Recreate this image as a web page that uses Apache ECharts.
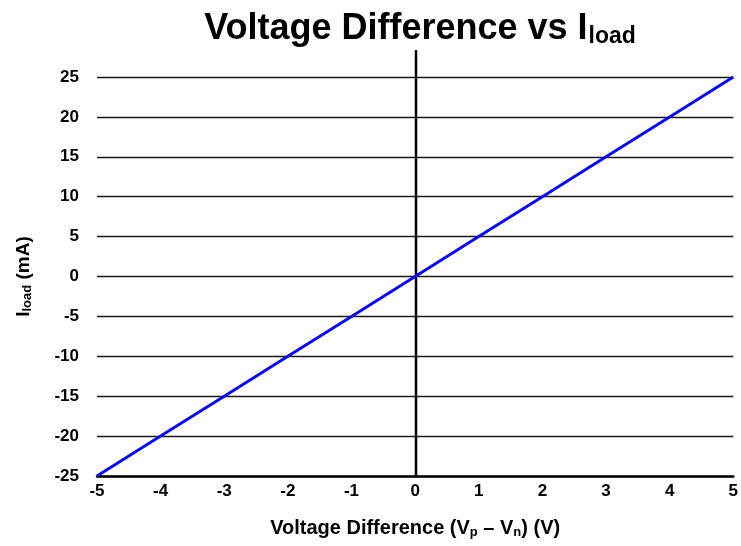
<!DOCTYPE html>
<html>
<head>
<meta charset="utf-8">
<script src="https://cdn.jsdelivr.net/npm/echarts@6/dist/echarts.min.js"></script>
<style>
  html, body { margin: 0; padding: 0; background: #fff; }
  #chart { width: 741px; height: 546px; }
</style>
</head>
<body>
<div id="chart"></div>
<script>
// measured points of I_load vs voltage difference
var voltage = [-5, -4, -3, -2, -1, 0, 1, 2, 3, 4, 5]
var iload = [-25, -20, -15, -10, -5, 0, 5, 10, 15, 20, 25]
// vertical marker at 0 V (drawn on an overlay grid that reaches above the plot)
var zeroX = [0, 0]
var zeroY = [0, 1]

var font = 'Liberation Sans, Arial, sans-serif'
var chart = echarts.init(document.getElementById('chart'))

chart.setOption({
  backgroundColor: '#fff',
  animation: false,
  title: {
    text: '{a|Voltage Difference vs I}{s|load}',
    left: 415,
    top: 6,
    textAlign: 'center',
    textStyle: {
      rich: {
        a: { fontFamily: font, fontWeight: 'bold', fontSize: 36, color: '#000' },
        s: { fontFamily: font, fontWeight: 'bold', fontSize: 23, color: '#000', padding: [14, 0, 0, 1] }
      }
    }
  },
  grid: [
    { left: 97, right: 6, top: 77, bottom: 70 },
    { left: 97, right: 6, top: 50, bottom: 70 }
  ],
  xAxis: [
    {
      type: 'value',
      gridIndex: 0,
      min: -5,
      max: 5,
      interval: 1,
      name: '{a|Voltage Difference (V}{s|p}{a| \u2013 V}{s|n}{a|) (V)}',
      nameLocation: 'middle',
      nameGap: 42,
      nameTextStyle: {
        rich: {
          a: { fontFamily: font, fontWeight: 'bold', fontSize: 20, color: '#000' },
          s: { fontFamily: font, fontWeight: 'bold', fontSize: 13, color: '#000', padding: [8, 0, 0, 0] }
        }
      },
      axisLine: { show: true, onZero: false, lineStyle: { color: '#000', width: 2.5 } },
      axisTick: { show: false },
      splitLine: { show: false },
      axisLabel: { margin: 7, color: '#000', fontFamily: font, fontWeight: 'bold', fontSize: 17 }
    },
    { type: 'value', gridIndex: 1, min: -5, max: 5, show: false }
  ],
  yAxis: [
    {
      type: 'value',
      gridIndex: 0,
      min: -25,
      max: 25,
      interval: 5,
      name: '{a|I}{s|load}{a| (mA)}',
      nameLocation: 'middle',
      nameGap: 63,
      nameRotate: 90,
      nameTextStyle: {
        rich: {
          a: { fontFamily: font, fontWeight: 'bold', fontSize: 19, color: '#000' },
          s: { fontFamily: font, fontWeight: 'bold', fontSize: 13, color: '#000', padding: [8, 0, 0, 0] }
        }
      },
      axisLine: { show: false },
      axisTick: { show: false },
      splitLine: { show: true, lineStyle: { color: '#1a1a1a', width: 1.4 } },
      axisLabel: { margin: 18, color: '#000', fontFamily: font, fontWeight: 'bold', fontSize: 17 }
    },
    { type: 'value', gridIndex: 1, min: 0, max: 1, show: false }
  ],
  series: [
    {
      type: 'line',
      xAxisIndex: 1,
      yAxisIndex: 1,
      data: zeroX.map(function(x, i) { return [x, zeroY[i]] }),
      symbol: 'none',
      lineStyle: { color: '#000', width: 2.5 },
      silent: true
    },
    {
      type: 'line',
      xAxisIndex: 0,
      yAxisIndex: 0,
      data: voltage.map(function(v, i) { return [v, iload[i]] }),
      symbol: 'none',
      lineStyle: { color: '#0a0ae6', width: 3 }
    }
  ]
})
</script>
</body>
</html>
